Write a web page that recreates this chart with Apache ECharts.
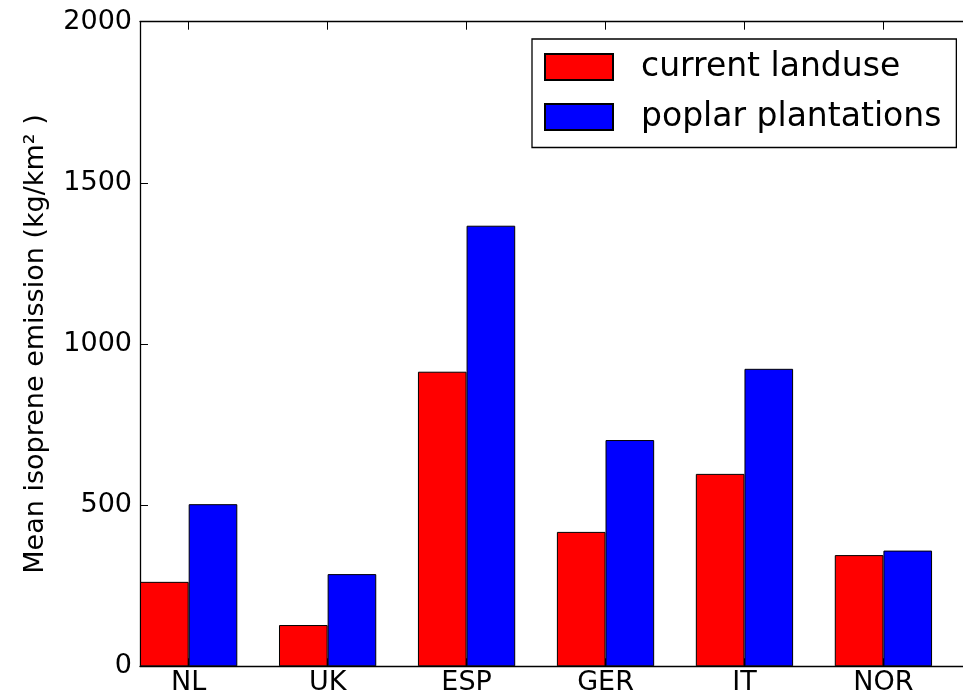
<!DOCTYPE html>
<html>
<head>
<meta charset="utf-8">
<script src="https://cdn.jsdelivr.net/npm/echarts@6/dist/echarts.min.js"></script>
<style>
html,body{margin:0;padding:0;background:#fff;}
#chart{width:963px;height:698px;}
</style>
</head>
<body>
<div id="chart"></div>
<script>
const categories = ['NL', 'UK', 'ESP', 'GER', 'IT', 'NOR'];
const currentLanduse = [262, 128, 914, 417, 597, 345];
const poplarPlantations = [503, 286, 1367, 702, 923, 359];
const yTicks = [0, 500, 1000, 1500, 2000];
const seriesNames = ['current landuse', 'poplar plantations'];

const FONT = 'DejaVu Sans';
const chart = echarts.init(document.getElementById('chart'), null, {renderer: 'canvas'});

const frameLine = {show: true, lineStyle: {color: '#000', width: 1.3}};

const option = {
  animation: false,
  backgroundColor: '#fff',
  grid: [
    {left: 119.2, right: 10.1, top: 21.7, bottom: 31.7, show: false, outerBoundsMode: 'none'},
    {left: 140, right: -9, top: 21.7, bottom: 31.7, show: false, outerBoundsMode: 'none'}
  ],
  legend: {
    orient: 'vertical',
    left: 532,
    top: 39,
    padding: [11.5, 15, 14, 12],
    itemWidth: 68,
    itemHeight: 26,
    itemGap: 17,
    borderColor: '#000',
    borderWidth: 1.3,
    backgroundColor: '#fff',
    icon: 'rect',
    data: seriesNames,
    textStyle: {fontFamily: FONT, fontSize: 33, color: '#000', lineHeight: 26, padding: [0, 0, 0, 23]}
  },
  xAxis: [
    {
      type: 'category', gridIndex: 0, data: categories, position: 'bottom',
      axisLine: {show: false},
      axisTick: {show: true, inside: true, alignWithLabel: true, length: 8, lineStyle: {color: '#000', width: 1}},
      axisLabel: {fontFamily: FONT, fontSize: 27, color: '#000', margin: 3},
      splitLine: {show: false}
    },
    {
      type: 'category', gridIndex: 0, data: categories, position: 'top',
      axisLine: {show: false},
      axisTick: {show: true, inside: true, alignWithLabel: true, length: 8, lineStyle: {color: '#000', width: 1}},
      axisLabel: {show: false},
      splitLine: {show: false}
    },
    {
      type: 'value', gridIndex: 1, position: 'bottom', min: 0, max: 1,
      axisLine: frameLine, axisTick: {show: false}, axisLabel: {show: false}, splitLine: {show: false}
    },
    {
      type: 'value', gridIndex: 1, position: 'top', min: 0, max: 1,
      axisLine: frameLine, axisTick: {show: false}, axisLabel: {show: false}, splitLine: {show: false}
    }
  ],
  yAxis: [
    {type: 'value', gridIndex: 0, min: 0, max: 2000, show: false},
    {
      type: 'value', gridIndex: 1, min: yTicks[0], max: yTicks[yTicks.length - 1], interval: 500,
      position: 'left',
      axisLine: frameLine,
      axisTick: {show: true, inside: true, length: 8, lineStyle: {color: '#000', width: 1}},
      axisLabel: {fontFamily: FONT, fontSize: 27, color: '#000', margin: 8, formatter: function (v) { return String(v); }},
      splitLine: {show: false},
      name: 'Mean isoprene emission (kg/km² )',
      nameLocation: 'middle',
      nameRotate: 90,
      nameGap: 91,
      nameTextStyle: {fontFamily: FONT, fontSize: 27, color: '#000'}
    }
  ],
  series: [
    {
      name: seriesNames[0], type: 'bar', xAxisIndex: 0, yAxisIndex: 0,
      data: currentLanduse, barWidth: '35%', barGap: '0%',
      itemStyle: {color: '#ff0000', borderColor: '#000', borderWidth: 1}
    },
    {
      name: seriesNames[1], type: 'bar', xAxisIndex: 0, yAxisIndex: 0,
      data: poplarPlantations, barWidth: '35%', barGap: '0%',
      itemStyle: {color: '#0000ff', borderColor: '#000', borderWidth: 1}
    }
  ]
};
chart.setOption(option);
</script>
</body>
</html>
